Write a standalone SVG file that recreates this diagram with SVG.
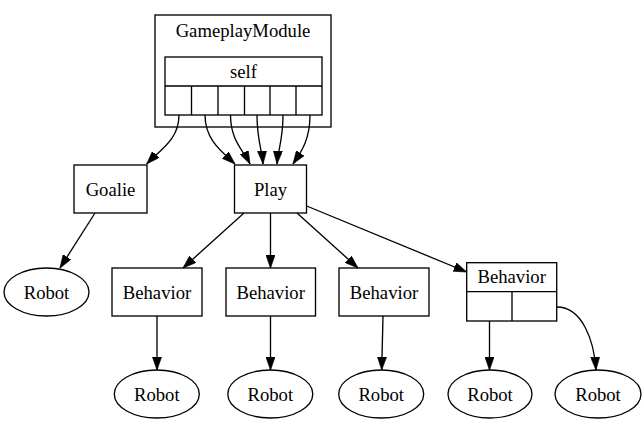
<svg xmlns="http://www.w3.org/2000/svg" width="644" height="424" viewBox="0 0 644 424">
<style>
.n{fill:#fff;stroke:#000;stroke-width:1.33}
.t{font-family:'Liberation Serif','Times New Roman',Times,'DejaVu Serif',serif;font-size:18.67px;text-anchor:middle;fill:#000}
.e{fill:none;stroke:#000;stroke-width:1.33;marker-end:url(#ah)}
</style>
<defs>
<marker id="ah" markerUnits="userSpaceOnUse" viewBox="0 0 10 7" markerWidth="13" markerHeight="9.3" refX="10" refY="3.5" orient="auto">
<path d="M0,0 L10,3.5 L0,7 z" fill="#000" stroke="#000" stroke-width="0.5"/>
</marker>
</defs>
<rect width="644" height="424" fill="#fff"/>
<g id="cluster_GameplayModule">
<rect class="n" x="155" y="15" width="176" height="112"/>
<text class="t" x="243" y="37">GameplayModule</text>
</g>
<g id="self">
<rect class="n" x="165" y="57" width="157" height="58"/>
<path d="M165,86 H322 M191.5,86 V115 M218,86 V115 M244.5,86 V115 M270,86 V115 M296,86 V115" stroke="#000" stroke-width="1.33" fill="none"/>
<text class="t" x="243.5" y="78">self</text>
</g>
<g id="goalie">
<rect class="n" x="74" y="165" width="73" height="48"/>
<text class="t" x="110.5" y="196">Goalie</text>
</g>
<g id="play">
<rect class="n" x="234.5" y="165" width="72" height="48"/>
<text class="t" x="270.5" y="196">Play</text>
</g>
<g id="robot_goalie">
<ellipse class="n" cx="46.5" cy="292" rx="42.5" ry="24"/>
<text class="t" x="46.5" y="298.5">Robot</text>
</g>
<g id="behavior1">
<rect class="n" x="112" y="268" width="90" height="48"/>
<text class="t" x="157" y="298.5">Behavior</text>
</g>
<g id="behavior2">
<rect class="n" x="226" y="268" width="89.5" height="48"/>
<text class="t" x="270.7" y="298.5">Behavior</text>
</g>
<g id="behavior3">
<rect class="n" x="339" y="268" width="90" height="48"/>
<text class="t" x="384" y="298.5">Behavior</text>
</g>
<g id="behavior4">
<rect class="n" x="466.7" y="262.7" width="90" height="58.3"/>
<path d="M466.7,291.7 H556.7 M512,291.7 V321" stroke="#000" stroke-width="1.33" fill="none"/>
<text class="t" x="511.7" y="283">Behavior</text>
</g>
<g id="robot1">
<ellipse class="n" cx="156.8" cy="394" rx="42.5" ry="24"/>
<text class="t" x="156.8" y="400.5">Robot</text>
</g>
<g id="robot2">
<ellipse class="n" cx="270.3" cy="394" rx="42.5" ry="24"/>
<text class="t" x="270.3" y="400.5">Robot</text>
</g>
<g id="robot3">
<ellipse class="n" cx="381.2" cy="394" rx="42.5" ry="24"/>
<text class="t" x="381.2" y="400.5">Robot</text>
</g>
<g id="robot4">
<ellipse class="n" cx="490" cy="394" rx="42" ry="24"/>
<text class="t" x="490" y="400.5">Robot</text>
</g>
<g id="robot5">
<ellipse class="n" cx="598" cy="394" rx="43" ry="24"/>
<text class="t" x="598" y="400.5">Robot</text>
</g>
<g id="edges">
<path class="e" d="M179,115 C179,140 160,150 146.7,164"/>
<path class="e" d="M205,115 C205,140 222,152 235,164"/>
<path class="e" d="M230.5,115 C230.5,140 243,150 250,164"/>
<path class="e" d="M257,115 C257,140 262,150 263,164"/>
<path class="e" d="M283,115 C283,140 278,150 277,164"/>
<path class="e" d="M310,115 C310,140 301,152 293,164"/>
<path class="e" d="M95,213 L60,268"/>
<path class="e" d="M244,213 L183,268"/>
<path class="e" d="M270.5,213 L270.5,268"/>
<path class="e" d="M297,213 L358,268"/>
<path class="e" d="M306.7,206 L466.7,272"/>
<path class="e" d="M157,316 L157,370"/>
<path class="e" d="M270.5,316 L270.5,370"/>
<path class="e" d="M383,316 L381.7,370"/>
<path class="e" d="M489.5,321 L489.5,370"/>
<path class="e" d="M557,307 C582,307 594,340 596,370"/>
</g>
</svg>
